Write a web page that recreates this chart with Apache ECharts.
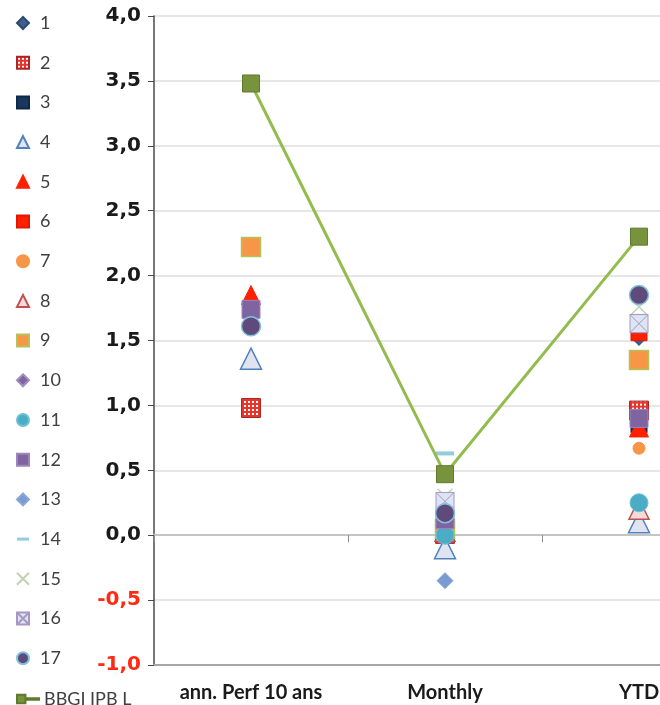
<!DOCTYPE html>
<html>
<head>
<meta charset="utf-8">
<script src="https://cdn.jsdelivr.net/npm/echarts@6/dist/echarts.min.js"></script>
<style>
  html, body { margin: 0; padding: 0; background: #ffffff; }
  #chart { width: 660px; height: 705px; }
</style>
</head>
<body>
<div id="chart"></div>
<script>
// Performance periods on the category axis
const categories = ['ann. Perf 10 ans', 'Monthly', 'YTD'];

// Value axis range and step
const yMin = -1.0;
const yMax = 4.0;
const yStep = 0.5;

// Performance of each fund (null = no figure for that period)
const fund1  = [null, 0.05, 1.52];
const fund2  = [0.98, 0.01, 0.96];
const fund3  = [null, 0.03, 0.85];
const fund4  = [1.36, -0.10, 0.10];
const fund5  = [1.85, 0.06, 0.83];
const fund6  = [null, 0.02, 1.56];
const fund7  = [null, 0.04, 0.67];
const fund8  = [null, 0.03, 0.20];
const fund9  = [2.22, 0.05, 1.35];
const fund10 = [null, 0.12, 0.90];
const fund11 = [null, 0.00, 0.25];
const fund12 = [1.74, 0.12, 0.90];
const fund13 = [null, -0.35, null];
const fund14 = [null, 0.63, 1.69];
const fund15 = [null, 0.30, 1.76];
const fund16 = [null, 0.26, 1.63];
const fund17 = [1.61, 0.17, 1.85];
const bbgi   = [3.48, 0.47, 2.30];

const fundNames = ['1','2','3','4','5','6','7','8','9','10','11','12','13','14','15','16','17'];
const fundData = [fund1, fund2, fund3, fund4, fund5, fund6, fund7, fund8, fund9,
                  fund10, fund11, fund12, fund13, fund14, fund15, fund16, fund17];
const benchName = 'BBGI IPB L';

// Red dotted fill for fund 2; scale compensates the symbol's own scaling
function checkerPattern(scale) {
  const c = document.createElement('canvas');
  c.width = 4; c.height = 4;
  const g = c.getContext('2d');
  g.fillStyle = '#e8352c';
  g.fillRect(0, 0, 4, 4);
  g.fillStyle = '#ffffff';
  g.fillRect(1, 1, 2, 2);
  return { image: c, repeat: 'repeat', scaleX: scale, scaleY: scale };
}

const PATH_X = 'path://M0,0 L10,10 M10,0 L0,10';
const PATH_BOX_X = 'path://M0,0 L10,0 L10,10 L0,10 Z M0,0 L10,10 M10,0 L0,10';

// Marker look for each fund, in legend order
const markers = [
  { symbol: 'diamond',  size: 15, color: '#3f5f8c', border: '#2e4a70', bw: 1 },
  { symbol: 'rect',     size: 19, color: checkerPattern(2 / 19), border: '#a8282a', bw: 1 },
  { symbol: 'rect',     size: 16, color: '#17375e', border: '#0f2846', bw: 1 },
  { symbol: 'triangle', size: 21, color: '#dfe3f2', border: '#4f81bd', bw: 1.5 },
  { symbol: 'triangle', size: 19, color: '#ff2000', border: '#ff2000', bw: 1 },
  { symbol: 'rect',     size: 16, color: '#ff2000', border: '#e01800', bw: 1 },
  { symbol: 'circle',   size: 12, color: '#f79646', border: '#f79646', bw: 1 },
  { symbol: 'triangle', size: 20, color: '#f2dcdb', border: '#c0504d', bw: 1.5 },
  { symbol: 'rect',     size: 19, color: '#f79646', border: '#b5c25a', bw: 1.5 },
  { symbol: 'diamond',  size: 15, color: '#8064a2', border: '#a08cc0', bw: 1 },
  { symbol: 'circle',   size: 18, color: '#4bacc6', border: '#6cc0d6', bw: 1 },
  { symbol: 'rect',     size: 18, color: '#8064a2', border: '#9a86ba', bw: 1 },
  { symbol: 'diamond',  size: 16, color: '#7a9bd0', border: '#8aa8d8', bw: 1 },
  { symbol: 'rect',     size: [18, 4], color: '#93cddd', border: '#93cddd', bw: 0 },
  { symbol: PATH_X,     size: 15, color: 'rgba(0,0,0,0)', border: '#c2d2b0', bw: 1.5 },
  { symbol: PATH_BOX_X, size: 18, color: '#dce6f2', border: '#a896c4', bw: 1 },
  { symbol: 'circle',   size: 19, color: '#604a7b', border: '#7fc4dc', bw: 1.5 }
];

const series = fundData.map((vals, i) => ({
  name: fundNames[i],
  type: 'scatter',
  xAxisIndex: 0,
  data: vals,
  symbol: markers[i].symbol,
  symbolSize: markers[i].size,
  itemStyle: {
    color: markers[i].color,
    borderColor: markers[i].border,
    borderWidth: markers[i].bw,
    opacity: 1
  },
  emphasis: { disabled: true },
  z: 3
}));

series.push({
  name: benchName,
  type: 'line',
  xAxisIndex: 0,
  data: bbgi,
  symbol: 'rect',
  symbolSize: 17,
  lineStyle: { color: '#92bd4e', width: 3 },
  itemStyle: { color: '#77933c', borderColor: '#5f7a2e', borderWidth: 1 },
  emphasis: { disabled: true },
  z: 4
});

const legendText = {
  fontFamily: 'Lato',
  fontSize: 18,
  color: '#404040',
  lineHeight: 16,
  padding: [0, 0, 0, 6]
};

const legendData = fundNames.map(n => {
  if (n === '14') return { name: n, icon: 'path://M0,0 L12,0 L12,3 L0,3 Z' };
  if (n === '2') return { name: n, itemStyle: { color: checkerPattern(1) } };
  return { name: n };
});

const option = {
  animation: false,
  backgroundColor: '#ffffff',
  legend: [
    {
      orient: 'vertical',
      left: 11,
      top: 9,
      height: 690,
      itemWidth: 12,
      itemHeight: 12,
      itemGap: 21.7,
      selectedMode: false,
      textStyle: legendText,
      data: legendData
    },
    {
      orient: 'vertical',
      left: 11,
      top: 685,
      itemWidth: 22,
      itemHeight: 12,
      selectedMode: false,
      textStyle: Object.assign({}, legendText, { padding: [0, 0, 0, 0] }),
      data: [{ name: benchName, icon: 'path://M0,0 L10,0 L10,10 L0,10 Z M10,4 L26,4 L26,6 L10,6 Z' }]
    }
  ],
  grid: { left: 154, top: 16, width: 582, height: 649, outerBoundsMode: 'none' },
  xAxis: [
    {
      type: 'category',
      data: categories,
      boundaryGap: true,
      axisLine: { onZero: false, lineStyle: { color: '#a6a6a6', width: 2 } },
      axisTick: { show: false },
      axisLabel: {
        interval: 0,
        margin: 18,
        fontFamily: 'Lato',
        fontWeight: 'bold',
        fontSize: 20,
        color: '#1a1a1a'
      },
      splitLine: { show: false }
    },
    {
      type: 'category',
      data: categories,
      position: 'bottom',
      boundaryGap: true,
      axisLine: { onZero: true, lineStyle: { color: '#c4c4c4', width: 2 } },
      axisTick: { show: true, interval: 0, length: 7, lineStyle: { color: '#8c8c8c', width: 1 } },
      axisLabel: { show: false },
      splitLine: { show: false }
    }
  ],
  yAxis: {
    type: 'value',
    min: yMin,
    max: yMax,
    interval: yStep,
    axisLine: { show: true, lineStyle: { color: '#4a4a4a', width: 1.5 } },
    axisTick: { show: true, inside: false, length: 6, lineStyle: { color: '#4a4a4a', width: 1 } },
    axisLabel: {
      margin: 13,
      fontFamily: 'DejaVu Sans',
      fontWeight: 'bold',
      fontSize: 20,
      formatter: v => v.toFixed(1).replace('.', ','),
      color: v => (parseFloat(v) < 0 ? '#ff2a12' : '#1a1a1a')
    },
    splitLine: { show: true, lineStyle: { color: '#e6e6e6', width: 2 } }
  },
  series: series
};

const chart = echarts.init(document.getElementById('chart'), null, { renderer: 'canvas' });
chart.setOption(option);
</script>
</body>
</html>
